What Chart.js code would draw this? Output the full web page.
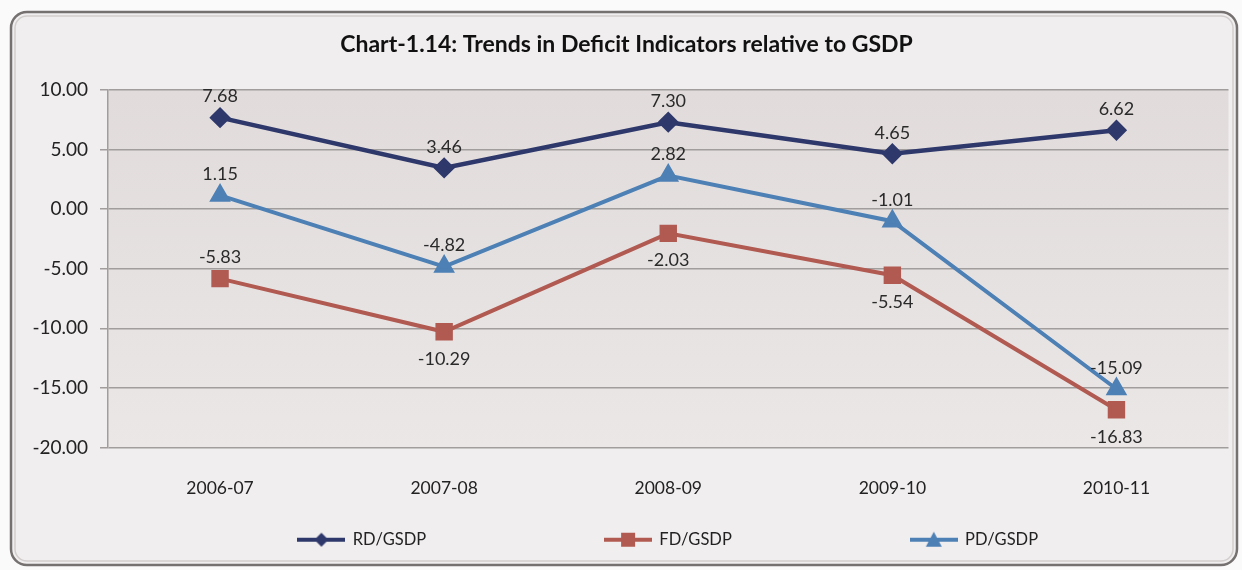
<!DOCTYPE html>
<html>
<head>
<meta charset="utf-8">
<script src="https://cdn.jsdelivr.net/npm/chart.js@4/dist/chart.umd.min.js"></script>
<style>
  html, body { margin: 0; padding: 0; background: #fbfafa; }
  #wrap { width: 1242px; height: 570px; position: relative; }
</style>
</head>
<body>
<div id="wrap"><canvas id="c"></canvas></div>
<script>
// Years on the category axis
const years = ['2006-07', '2007-08', '2008-09', '2009-10', '2010-11'];
// Deficit indicators as % of GSDP
const rdGsdp = [7.68, 3.46, 7.30, 4.65, 6.62];
const fdGsdp = [-5.83, -10.29, -2.03, -5.54, -16.83];
const pdGsdp = [1.15, -4.82, 2.82, -1.01, -15.09];
// Value-axis ticks
const yTicks = [-20, -15, -10, -5, 0, 5, 10];

// Where each value label sits relative to its point
const rdLabelPos = ['above', 'above', 'above', 'above', 'above'];
const fdLabelPos = ['above', 'below', 'below', 'below', 'below'];
const pdLabelPos = ['above', 'above', 'above', 'above', 'above'];

const FONT = 'Lato, "Liberation Sans", sans-serif';
const LEGEND_SIZE = 16.5;
const COLORS = { rd: '#2e386b', fd: '#b05a51', pd: '#4d80b5' };

// Small line-with-marker icons for the legend
function legendIcon(color, shape) {
  const c = document.createElement('canvas');
  c.width = 48; c.height = 18;
  const g = c.getContext('2d');
  g.strokeStyle = color; g.fillStyle = color; g.lineWidth = 4;
  g.beginPath(); g.moveTo(0, 9); g.lineTo(48, 9); g.stroke();
  g.beginPath();
  if (shape === 'diamond') {
    g.moveTo(24, 2); g.lineTo(31, 9); g.lineTo(24, 16); g.lineTo(17, 9);
  } else if (shape === 'square') {
    g.rect(17, 2, 14, 14);
  } else {
    g.moveTo(24, 1); g.lineTo(32, 16); g.lineTo(16, 16);
  }
  g.closePath(); g.fill();
  return c;
}
const icons = [legendIcon(COLORS.rd, 'diamond'), legendIcon(COLORS.fd, 'square'), legendIcon(COLORS.pd, 'triangle')];

// Pad a legend label with trailing spaces so the entries spread across the row
const measureCtx = document.createElement('canvas').getContext('2d');
function padTo(text, width) {
  measureCtx.font = LEGEND_SIZE + 'px ' + FONT;
  let t = text;
  while (measureCtx.measureText(t).width < width) t += ' ';
  return t;
}

// Frame, panel and plot-area shading
const backdrop = {
  id: 'backdrop',
  beforeDraw(chart) {
    const { ctx, chartArea: a } = chart;
    ctx.save();
    ctx.fillStyle = '#fbfafa';
    ctx.fillRect(0, 0, chart.width, chart.height);
    const r = 16, x0 = 11, y0 = 12, x1 = 1237, y1 = 565;
    ctx.beginPath();
    ctx.roundRect(x0, y0, x1 - x0, y1 - y0, r);
    ctx.fillStyle = '#f1eeef';
    ctx.fill();
    ctx.lineWidth = 2.5;
    ctx.strokeStyle = '#767171';
    ctx.stroke();
    ctx.beginPath();
    ctx.roundRect(x0 + 4, y0 + 4, x1 - x0 - 8, y1 - y0 - 8, r - 4);
    ctx.lineWidth = 1.5;
    ctx.strokeStyle = '#d3cece';
    ctx.stroke();
    const grad = ctx.createLinearGradient(0, a.top, 0, a.bottom);
    grad.addColorStop(0, '#e1dbdb');
    grad.addColorStop(1, '#ebe7e7');
    ctx.fillStyle = grad;
    ctx.fillRect(a.left, a.top, a.right - a.left, a.bottom - a.top);
    ctx.restore();
  }
};

// Value labels next to every marker
const valueLabels = {
  id: 'valueLabels',
  afterDatasetsDraw(chart) {
    const ctx = chart.ctx;
    ctx.save();
    ctx.font = '18px ' + FONT;
    ctx.fillStyle = '#2a2a2a';
    ctx.textAlign = 'center';
    ctx.textBaseline = 'middle';
    chart.data.datasets.forEach((ds, di) => {
      const meta = chart.getDatasetMeta(di);
      meta.data.forEach((pt, i) => {
        const pos = ds.labelPos[i];
        const dy = pos === 'above' ? -21 : 27;
        ctx.fillText(ds.data[i].toFixed(2), pt.x, pt.y + dy);
      });
    });
    ctx.restore();
  }
};

const gridColor = '#a19d9d';

new Chart(document.getElementById('c'), {
  type: 'line',
  data: {
    labels: years,
    datasets: [
      { label: 'RD/GSDP', data: rdGsdp, labelPos: rdLabelPos,
        borderColor: COLORS.rd, backgroundColor: COLORS.rd, borderWidth: 4.5,
        pointStyle: 'rectRot', pointRadius: 7.5, pointHoverRadius: 7.5 },
      { label: 'FD/GSDP', data: fdGsdp, labelPos: fdLabelPos,
        borderColor: COLORS.fd, backgroundColor: COLORS.fd, borderWidth: 4,
        pointStyle: 'rect', pointRadius: 9.5, pointHoverRadius: 9.5 },
      { label: 'PD/GSDP', data: pdGsdp, labelPos: pdLabelPos,
        borderColor: COLORS.pd, backgroundColor: COLORS.pd, borderWidth: 4,
        pointStyle: 'triangle', pointRadius: 8.5, pointHoverRadius: 8.5 }
    ]
  },
  options: {
    responsive: true,
    maintainAspectRatio: false,
    animation: false,
    events: [],
    layout: { padding: { left: 20, right: 9, top: 22, bottom: 12 } },
    elements: { line: { tension: 0 } },
    scales: {
      x: {
        type: 'category',
        offset: true,
        grid: { display: false, drawTicks: false },
        border: { display: false },
        ticks: { color: '#222', font: { family: FONT, size: 17.5 }, padding: 30 },
        afterFit(s) { s.height = 74; }
      },
      y: {
        min: -20, max: 10,
        afterBuildTicks(s) { s.ticks = yTicks.map(v => ({ value: v })); },
        ticks: { color: '#222', font: { family: FONT, size: 19 }, padding: 12,
                 callback: v => Number(v).toFixed(2) },
        grid: { color: gridColor, lineWidth: 1.5, tickLength: 8 },
        border: { display: true, color: gridColor, width: 1.5 },
        afterFit(s) { s.width = 88; }
      }
    },
    plugins: {
      title: {
        display: true,
        text: 'Chart-1.14: Trends in Deficit Indicators relative to GSDP',
        color: '#111',
        font: { family: FONT, size: 23, weight: 'bold' },
        padding: { top: 9, bottom: 31.4 }
      },
      legend: {
        position: 'bottom',
        fullSize: false,
        labels: {
          usePointStyle: true,
          pointStyleWidth: 46,
          padding: 10,
          color: '#222',
          font: { family: FONT, size: LEGEND_SIZE },
          generateLabels(chart) {
            const items = Chart.defaults.plugins.legend.labels.generateLabels(chart);
            return items.map((it, i) => Object.assign(it, {
              pointStyle: icons[i],
              text: i < items.length - 1 ? padTo(it.text, 241) : it.text
            }));
          }
        }
      },
      tooltip: { enabled: false }
    }
  },
  plugins: [backdrop, valueLabels]
});
</script>
</body>
</html>
